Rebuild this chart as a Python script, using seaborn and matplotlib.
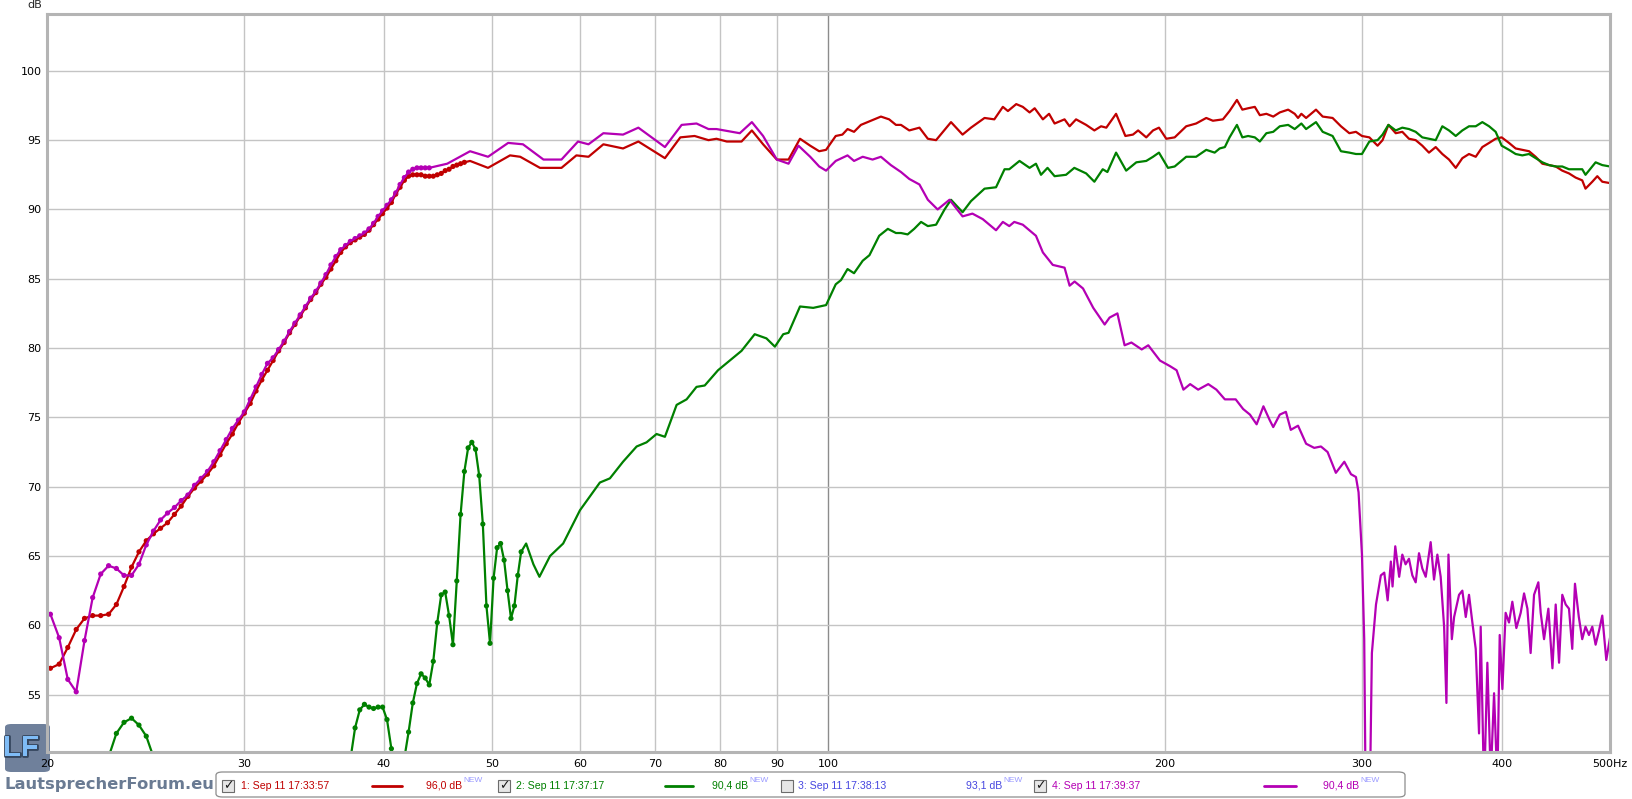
import numpy as np
import pandas as pd
import matplotlib
matplotlib.use('Agg')
import matplotlib.pyplot as plt
import seaborn as sns
from matplotlib.patches import FancyBboxPatch, Rectangle
from matplotlib.lines import Line2D
from matplotlib.ticker import NullLocator
import matplotlib.patheffects as pe

# REW style frequency response, 20 Hz - 500 Hz
W, H = 1633, 799

# FFT bin spacing of the measurement (48 kHz / 128k), used for the dotted low end
BIN_HZ = 48000 / 131072

# trace 1 (red) - low end, one value per bin
red_lo_bins = list(range(54, 130))
red_lo_db = [56.8,
             56.9, 57.2, 58.4, 59.7, 60.5, 60.7, 60.7, 60.8, 61.5,
             62.8, 64.2, 65.3, 66.1, 66.6, 67.0, 67.4, 68.0, 68.6, 69.3,
             69.9, 70.4, 70.9, 71.5, 72.3, 73.1, 73.8, 74.6, 75.3, 76.0,
             76.9, 77.7, 78.4, 79.1, 79.8, 80.4, 81.1, 81.7, 82.3, 82.9,
             83.5, 84.0, 84.6, 85.1, 85.7, 86.3, 86.9, 87.3, 87.6, 87.8,
             88.0, 88.2, 88.5, 88.9, 89.3, 89.7, 90.1, 90.5, 91.1, 91.6,
             92.1, 92.4, 92.5,
             92.5, 92.5, 92.4, 92.4, 92.4, 92.5, 92.6, 92.8, 92.9, 93.1,
             93.2, 93.3, 93.4]
red_hi_hz = [47.8, 49.6, 51.9, 53.0, 55.2, 57.7, 59.5, 61.0, 62.9, 65.5, 67.6, 71.4,
             73.7, 75.9, 78.1, 79.4, 81.1, 83.6, 85.4, 87.4, 89.9, 92.1, 94.3, 96.3,
             98.1, 99.5, 101.5, 102.9, 104.0, 105.4, 106.9, 109.1, 111.4, 113.3, 114.9,
             116.1, 118.1, 120.6, 122.7, 124.8, 128.7, 131.8, 134.1, 137.9, 140.7, 143.2,
             144.7, 147.2, 149.2, 151.3, 152.9, 155.5, 157.5, 159.3, 162.6, 164.3, 166.5,
             170.0, 172.9, 175.3, 177.2, 180.8, 184.3, 187.2, 189.2, 192.4, 195.1, 197.5,
             200.5, 204.0, 208.9, 213.2, 217.7, 220.7, 225.3, 228.4,
             231.9, 234.5, 237.3, 240.6, 243.1, 246.4, 249.9, 253.3, 257.7, 261.2, 263.0,
             264.8, 267.4, 272.9, 276.7, 282.4, 287.3, 292.3, 296.3, 300.0, 304.6, 309.8,
             313.0, 316.8, 321.6, 326.0, 330.5, 335.1, 339.7, 344.4, 349.2, 354.0, 358.9,
             363.9, 368.9, 374.0, 379.2, 384.4, 389.8, 395.1, 400.0, 406.1, 411.7, 417.4,
             423.2, 429.0, 435.0, 441.0, 447.1, 453.2, 459.5, 465.8, 472.2, 475.4, 482.1,
             487.1, 492.1, 500.0]
red_hi_db = [93.5, 93.0, 93.9, 93.8, 93.0, 93.0, 93.9, 93.8, 94.7, 94.4, 94.9, 93.7,
             95.2, 95.3, 95.0, 95.1, 94.9, 94.9, 95.7, 94.7, 93.6, 93.6, 95.1, 94.6,
             94.2, 94.3, 95.3, 95.4, 95.8, 95.6, 96.1, 96.4, 96.7, 96.5, 96.1,
             96.1, 95.7, 95.9, 95.1, 95.0, 96.3, 95.4, 95.9, 96.6, 96.5, 97.4,
             97.1, 97.6, 97.4, 97.0, 97.3, 96.5, 96.9, 96.2, 96.5, 96.0, 96.5,
             96.1, 95.7, 96.0, 95.9, 96.9, 95.3, 95.4, 95.7, 95.2, 95.7, 95.9,
             95.1, 95.2, 96.0, 96.2, 96.6, 96.4, 96.5, 97.1,
             97.9, 97.2, 97.3, 97.4, 96.8, 96.9, 96.7, 97.0, 97.2, 96.9, 96.6,
             96.9, 96.6, 97.2, 96.7, 96.6, 96.0, 95.5, 95.6, 95.3, 95.2, 94.6,
             95.0, 96.1, 95.5, 95.6, 95.1, 95.0, 94.6, 94.1, 94.5, 94.0, 93.6,
             93.0, 93.7, 94.0, 93.8, 94.5, 94.8, 95.1, 95.2, 94.8, 94.4, 94.3,
             94.2, 93.8, 93.3, 93.2, 93.1, 92.8, 92.6, 92.3, 92.1, 91.5, 92.0,
             92.4, 92.0, 91.9]

# trace 2 (green)
green_lo_bins = list(range(61, 70)) + list(range(102, 146))
green_lo_db = [48.5, 50.5, 52.2, 53.0, 53.3, 52.8, 52.0, 50.5, 48.5,
               50.3, 52.6, 53.9, 54.3, 54.1, 54.0, 54.1, 54.1, 53.2, 51.1,
               49.0, 48.5, 50.4,
               52.3, 54.4, 55.8, 56.5, 56.2, 55.7, 57.4, 60.2, 62.2, 62.4, 60.7, 58.6,
               63.2, 68.0, 71.1, 72.8, 73.2, 72.7, 70.8, 67.3, 61.4, 58.7,
               63.4, 65.6, 65.9, 64.7, 62.5, 60.5, 61.4, 63.6, 65.3]
green_hi_hz = [53.65, 54.46, 55.14, 56.36, 57.9, 59.94, 62.45, 63.75, 65.5, 67.36, 68.75,
               70.18, 71.4, 73.14, 74.66, 76.2, 77.5, 79.65, 81.6, 83.6, 85.9, 88.0, 89.55,
               91.1, 92.1, 94.3, 96.9,
               99.5, 101.5, 102.6, 104.0, 105.4, 107.3, 108.8, 111.0, 113.0, 114.9, 116.1,
               117.7, 119.3, 121.0, 122.7, 124.8, 127.0, 128.7, 131.8, 134.1, 137.9, 141.2,
               143.7, 145.1, 148.2, 151.3, 153.3, 154.9, 157.0, 159.3, 163.1, 165.9, 170.0,
               172.9, 175.9, 177.6, 180.8, 184.6, 188.5, 192.4, 195.1, 197.5, 201.2, 204.0,
               208.9, 213.2, 217.7, 221.5, 223.8, 226.2, 228.4,
               231.9, 234.5, 237.3, 240.6, 243.1, 246.4, 249.9, 253.3, 257.7, 261.2, 264.8,
               267.4, 272.9, 276.7, 282.4, 287.3, 292.3, 296.3, 300.0, 304.6, 309.8, 313.0,
               316.8, 321.6, 326.0, 330.5, 335.1, 339.7, 344.4, 349.2, 354.0, 358.9, 363.9,
               368.9, 374.0, 379.2, 384.4, 389.8, 395.1, 400.0, 406.1, 411.7, 417.4, 423.2,
               429.0, 435.0, 441.0, 447.1, 453.2, 459.5, 465.8, 472.2, 475.4, 485.4, 492.1,
               500.0]
green_hi_db = [65.9, 64.4, 63.5, 65.0, 65.9, 68.3, 70.3, 70.6, 71.8, 72.9, 73.2,
               73.8, 73.6, 75.9, 76.3, 77.2, 77.3, 78.4, 79.1, 79.8, 81.0, 80.7, 80.1,
               81.0, 81.1, 83.0, 82.9,
               83.1, 84.6, 84.9, 85.7, 85.4, 86.3, 86.7, 88.1, 88.6, 88.3, 88.3,
               88.2, 88.6, 89.1, 88.8, 88.9, 90.0, 90.7, 89.8, 90.6, 91.5, 91.6,
               92.9, 92.9, 93.5, 93.0, 93.3, 92.5, 93.0, 92.4, 92.5, 93.0, 92.6,
               92.0, 92.9, 92.7, 94.1, 92.8, 93.4, 93.5, 93.8, 94.1, 93.0, 93.1,
               93.8, 93.8, 94.3, 94.1, 94.4, 94.5, 95.2,
               96.1, 95.2, 95.3, 95.2, 94.9, 95.5, 95.6, 96.0, 96.1, 95.8, 96.2,
               95.8, 96.3, 95.6, 95.3, 94.2, 94.1, 94.0, 94.0, 94.9, 95.0, 95.4,
               96.1, 95.7, 95.9, 95.8, 95.6, 95.2, 95.1, 95.0, 96.0, 95.7, 95.3,
               95.7, 96.0, 96.0, 96.3, 96.0, 95.6, 94.6, 94.3, 94.0, 93.9, 94.0,
               93.7, 93.4, 93.2, 93.1, 93.1, 92.9, 92.9, 92.9, 92.5, 93.4, 93.2,
               93.1]

# trace 4 (magenta)
mag_lo_bins = list(range(54, 121))
mag_lo_db = [61.0,
             60.8, 59.1, 56.1, 55.2, 58.9, 62.0, 63.7, 64.3, 64.1, 63.6,
             63.6, 64.4, 65.8, 66.8, 67.6, 68.1, 68.5, 69.0, 69.4, 70.1,
             70.6, 71.1, 71.8, 72.6, 73.4, 74.2, 74.8, 75.4, 76.3, 77.2,
             78.1, 78.9,
             79.3, 79.9, 80.5, 81.2, 81.8, 82.4, 83.0, 83.6, 84.1, 84.7,
             85.3, 86.0, 86.6, 87.1, 87.4, 87.7, 87.9, 88.1, 88.3, 88.6,
             89.0, 89.5, 89.9, 90.3, 90.7, 91.2, 91.8, 92.3, 92.7, 92.9,
             93.0, 93.0, 93.0, 93.0]
mag_hi_hz = [45.6, 47.8, 49.6, 51.7, 53.3, 55.6, 57.7, 59.7, 61.0, 62.9, 65.5, 67.6,
             71.4, 73.9, 76.2, 78.1, 79.4, 83.3, 85.4, 87.4, 89.9, 92.1, 94.0, 96.3,
             98.1, 99.5, 101.5, 104.0, 105.4, 107.3, 109.5, 111.4, 113.7, 116.1, 118.1,
             120.6, 122.7, 125.2, 128.3, 131.8, 134.5, 137.4, 141.2, 143.2, 145.1, 146.6,
             149.2, 153.3, 155.5, 158.7, 162.6, 164.3, 166.0, 168.9, 172.5, 176.6, 178.4,
             181.3, 184.0, 186.6, 190.6, 193.2, 197.9, 202.0, 204.8, 207.7, 210.6, 214.1,
             218.6, 222.3, 226.2,
             231.3, 234.9, 238.2, 241.5, 244.9, 248.1, 249.9, 253.3, 256.5, 259.1, 263.0,
             267.4, 271.9, 275.7, 279.5, 284.3, 289.3, 293.3, 296.3, 297.9, 300.0, 301.4,
             302.5, 304.6, 306.2, 308.8, 311.9, 314.1, 316.3, 318.4, 319.5, 321.3, 323.9,
             326.0, 328.2, 330.5, 332.8, 335.1, 337.4, 339.7, 342.1, 345.6, 348.0, 350.4,
             352.8, 355.3, 357.0, 358.5, 361.0, 362.7, 366.4, 368.9, 371.5, 374.0, 376.6,
             379.2, 381.8, 383.1, 385.8, 388.4, 391.1, 393.8, 396.5, 398.4, 400.6, 403.3,
             406.1, 408.9, 412.3, 416.0, 418.9, 421.8, 424.6, 427.6, 431.4, 433.5, 436.5,
             440.4, 444.1, 447.1, 450.2, 453.2, 456.4, 459.5, 462.6, 465.2, 468.9, 472.2,
             475.4, 478.8, 482.1, 485.4, 488.8, 492.1, 496.2, 500.0]
mag_hi_db = [93.3, 94.2, 93.8, 94.8, 94.7, 93.6, 93.6, 94.9, 94.7, 95.5, 95.4, 95.9,
             94.5, 96.1, 96.2, 95.8, 95.8, 95.5, 96.3, 95.3, 93.6, 93.3, 94.6, 93.8,
             93.1, 92.8, 93.5, 93.9, 93.5, 93.8, 93.6, 93.8, 93.2, 92.7, 92.2,
             91.8, 90.7, 90.0, 90.7, 89.5, 89.7, 89.3, 88.5, 89.1, 88.8, 89.1,
             88.9, 88.1, 86.9, 86.0, 85.8, 84.5, 84.8, 84.3, 82.9, 81.7, 82.2,
             82.5, 80.2, 80.4, 79.9, 80.2, 79.1, 78.7, 78.4, 77.0, 77.4, 77.0,
             77.4, 77.0, 76.3,
             76.3, 75.6, 75.2, 74.5, 75.8, 74.8, 74.3, 75.2, 75.4, 74.1, 74.4,
             73.1, 72.8, 72.9, 72.5, 71.0, 71.8, 70.9, 70.7, 69.6, 65.1, 59.0,
             45.0, 45.0, 58.0, 61.5, 63.6, 63.8, 61.8, 64.6, 62.8, 65.7, 63.5,
             65.1, 64.4, 64.8, 63.6, 63.1, 65.2, 64.1, 63.5, 66.0, 63.3, 65.1,
             63.5, 59.9, 54.4, 65.1, 59.0, 60.6, 62.2, 62.5, 60.6, 62.2, 60.2,
             58.3, 52.2, 59.9, 48.0, 57.3, 49.0, 55.1, 48.5, 59.3, 55.4, 60.9,
             60.2, 61.7, 59.8, 60.9, 62.3, 61.2, 58.0, 62.2, 63.1, 60.9, 59.0,
             61.2, 56.9, 61.5, 57.3, 62.2, 61.5, 61.2, 58.3, 63.0, 60.6, 59.0,
             59.9, 59.3, 59.9, 58.6, 59.6, 60.7, 57.5, 59.1]

trace_names = ['1', '2', '4']
trace_colors = {'1': '#c00000', '2': '#008000', '4': '#b400b4'}

x_ticks = [20, 30, 40, 50, 60, 70, 80, 90, 100, 200, 300, 400, 500]
x_tick_labels = ['20', '30', '40', '50', '60', '70', '80', '90', '100', '200', '300', '400', '500Hz']
y_ticks = [55, 60, 65, 70, 75, 80, 85, 90, 95, 100]

legend_labels = ['1: Sep 11 17:33:57', '2: Sep 11 17:37:17', '3: Sep 11 17:38:13', '4: Sep 11 17:39:37']
legend_values = ['96,0 dB', '90,4 dB', '93,1 dB', '90,4 dB']
legend_colors = ['#c00000', '#008000', '#4646e0', '#b400b4']
legend_checked = [True, True, False, True]


def lo_frame(name, bins, levels):
    return pd.DataFrame({'freq': [k * BIN_HZ for k in bins], 'level': levels, 'trace': name})


def hi_frame(name, freqs, levels):
    return pd.DataFrame({'freq': freqs, 'level': levels, 'trace': name})


dots = pd.concat([lo_frame('1', red_lo_bins, red_lo_db),
                  lo_frame('2', green_lo_bins, green_lo_db),
                  lo_frame('4', mag_lo_bins, mag_lo_db)], ignore_index=True)
curves = pd.concat([dots,
                    hi_frame('1', red_hi_hz, red_hi_db),
                    hi_frame('2', green_hi_hz, green_hi_db),
                    hi_frame('4', mag_hi_hz, mag_hi_db)], ignore_index=True)
curves = curves.sort_values(['trace', 'freq'])

sns.set_theme(style='white')
plt.rcParams['font.family'] = ['DejaVu Sans']

fig = plt.figure(figsize=(W / 100, H / 100), dpi=100)
ax = fig.add_axes([47 / W, 1 - 752 / H, (1610 - 47) / W, (752 - 14) / H])
ax.patch.set_facecolor('none')


def fx(px):
    return px / W


def fy(py):
    return 1 - py / H


sns.lineplot(data=curves, x='freq', y='level', hue='trace', hue_order=trace_names,
             palette=trace_colors, estimator=None, sort=False, linewidth=1.6,
             legend=False, ax=ax)
sns.scatterplot(data=dots, x='freq', y='level', hue='trace', hue_order=trace_names,
                palette=trace_colors, s=14, linewidth=0, legend=False, ax=ax)

ax.set_xscale('log')
ax.set_xlim(20, 500)
ax.set_ylim(50.86, 104.1)
ax.set_xticks(x_ticks)
ax.set_xticklabels(x_tick_labels)
ax.xaxis.set_minor_locator(NullLocator())
ax.set_yticks(y_ticks)
ax.set_xlabel('')
ax.set_ylabel('')
ax.tick_params(axis='both', length=0, labelsize=8, colors='#000000')
ax.tick_params(axis='x', pad=5)
ax.tick_params(axis='y', pad=4)

ax.set_axisbelow(True)
ax.grid(True, color='#c4c4c4', linewidth=1.0)
for gl, t in zip(ax.get_xgridlines(), x_ticks):
    if t == 100:
        gl.set_color('#8c8c8c')

for sp in ax.spines.values():
    sp.set_color('#b4b4b4')
    sp.set_linewidth(2.2)

fig.text(fx(42), fy(5), 'dB', ha='right', va='center', fontsize=8)

# legend strip at the bottom
fig.add_artist(FancyBboxPatch((fx(216), fy(797)), (1405 - 216) / W, 25 / H,
                              boxstyle='round,pad=0,rounding_size=0.004',
                              transform=fig.transFigure, facecolor='white',
                              edgecolor='#8c8c8c', linewidth=0.9))

leg_font = 'Liberation Sans'
box_x = [222, 498, 781, 1034]
label_x = [241, 516, 798, 1052]
sample_x = [(372, 402), (665, 693), None, (1264, 1296)]
value_x = [462, 748, 1002, 1359]
ly = 786
for i in range(4):
    fig.add_artist(Rectangle((fx(box_x[i]), fy(792)), 12 / W, 12 / H,
                             transform=fig.transFigure, facecolor='#e6e6e6',
                             edgecolor='#6c6c6c', linewidth=0.8))
    if legend_checked[i]:
        fig.text(fx(box_x[i] + 6.5), fy(ly), '\u2713', ha='center', va='center',
                 fontsize=9, fontweight='bold', color='#1a1a1a')
    fig.text(fx(label_x[i]), fy(ly), legend_labels[i], ha='left', va='center',
             fontsize=7.6, color=legend_colors[i], family=leg_font)
    if sample_x[i] is not None:
        fig.add_artist(Line2D([fx(sample_x[i][0]), fx(sample_x[i][1])], [fy(ly), fy(ly)],
                              transform=fig.transFigure, color=legend_colors[i], linewidth=2))
    fig.text(fx(value_x[i]), fy(ly), legend_values[i], ha='right', va='center',
             fontsize=7.6, color=legend_colors[i], family=leg_font)
    fig.text(fx(value_x[i] + 1), fy(780), 'NEW', ha='left', va='center',
             fontsize=6, color='#9a9aff', family=leg_font)

# forum logo, bottom left (drawn under the axes so the "20" label stays on top)
fig.add_artist(FancyBboxPatch((fx(5), fy(772)), 45 / W, 48 / H,
                              boxstyle='round,pad=0,rounding_size=0.004',
                              transform=fig.transFigure, facecolor='#5f7290',
                              edgecolor='none', alpha=0.9, zorder=-2))
fig.text(fx(21), fy(748), 'LF', ha='center', va='center', fontsize=21,
         fontweight='bold', color='#7fbcf6', zorder=-1, family='Liberation Sans',
         path_effects=[pe.withStroke(linewidth=2, foreground='#35465e')])
fig.text(fx(5), fy(784), 'LautsprecherForum.eu', ha='left', va='center',
         fontsize=11.8, fontweight='bold', color='#6a7b93')

fig.savefig('out.png', dpi=100)
